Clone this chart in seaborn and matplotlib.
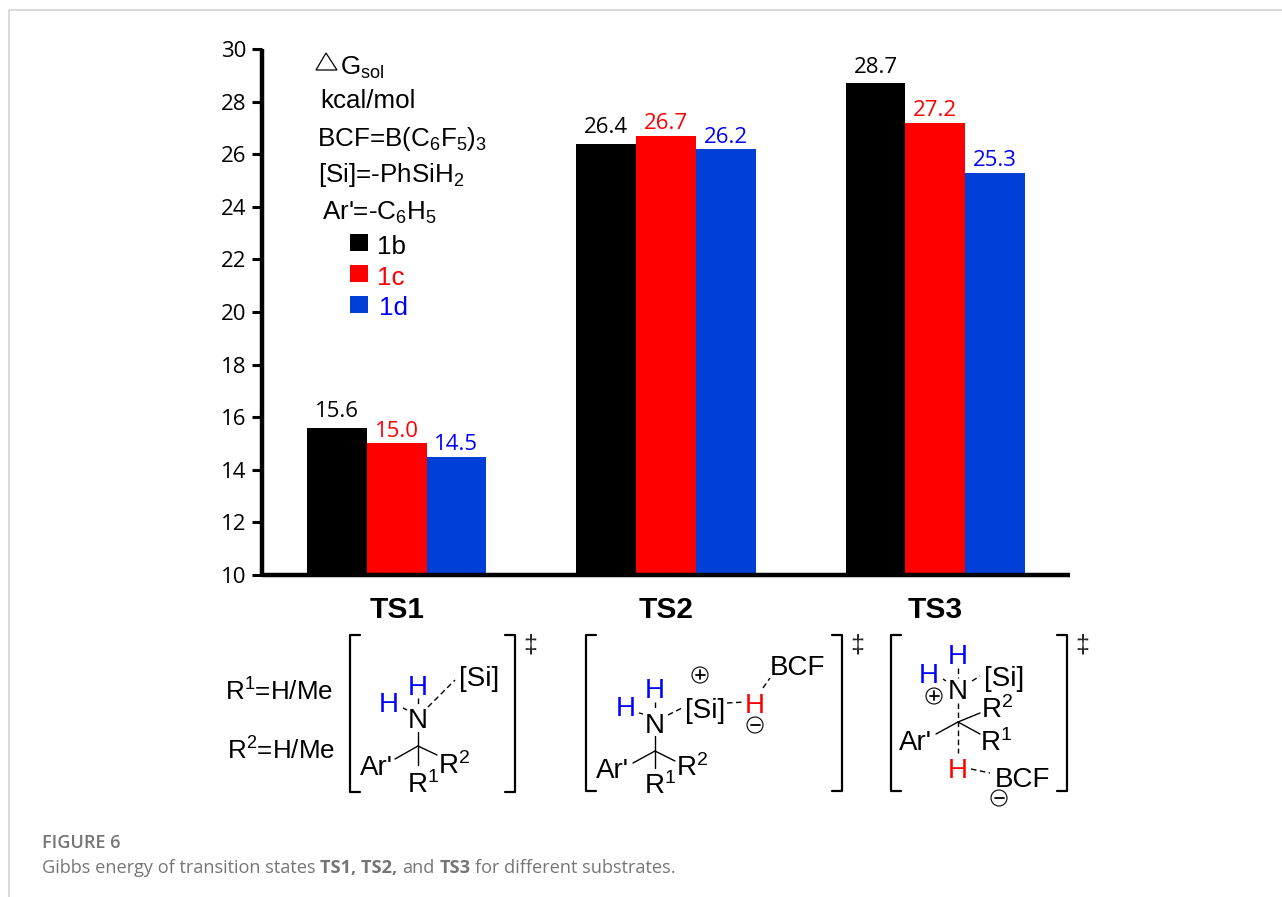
import matplotlib
matplotlib.use("Agg")
import matplotlib.pyplot as plt
from matplotlib.patches import Circle, Polygon, Rectangle
import pandas as pd
import seaborn as sns

states = ["TS1", "TS2", "TS3"]
substrates = ["1b", "1c", "1d"]
energy_1b = [15.6, 26.4, 28.7]
energy_1c = [15.0, 26.7, 27.2]
energy_1d = [14.5, 26.2, 25.3]
bar_colors = ["#000000", "#ff0000", "#0040d8"]
label_colors = ["#000000", "#ff0000", "#0000ff"]
label_padding = [4, 1, 1]

sns.set_theme(style="white")
plt.rcParams["font.family"] = ["Liberation Sans", "DejaVu Sans"]
plt.rcParams["mathtext.fontset"] = "custom"
plt.rcParams["mathtext.rm"] = "Liberation Sans"
plt.rcParams["mathtext.default"] = "regular"

df = pd.DataFrame({
    "state": states * 3,
    "substrate": [s for s in substrates for _ in states],
    "energy": energy_1b + energy_1c + energy_1d,
})

fig = plt.figure(figsize=(12.82, 8.97), dpi=100, facecolor="white")
ax = fig.add_axes([262 / 1282, 1 - 575 / 897, (1070 - 262) / 1282, (575 - 49) / 897])

sns.barplot(data=df, x="state", y="energy", hue="substrate", palette=bar_colors,
            width=0.665, gap=0, saturation=1, legend=False, linewidth=0, ax=ax)
ax.set_ylim(10, 30)
ax.set_xlim(-0.5, 2.5)
ax.set_yticks(range(10, 31, 2))
ax.set_xlabel("")
ax.set_ylabel("")
sns.despine(ax=ax)
for side in ["left", "bottom"]:
    ax.spines[side].set_linewidth(3.2)
    ax.spines[side].set_color("black")
    ax.spines[side].set_capstyle("butt")
ax.patch.set_alpha(0)
ax.tick_params(axis="y", length=7.5, width=2.2, color="black", pad=4, left=True)
ax.tick_params(axis="x", length=0, pad=15)
for t in ax.get_yticklabels():
    t.set_family("Open Sans")
    t.set_fontsize(16)
    t.set_color("black")
for t in ax.get_xticklabels():
    t.set_fontweight("bold")
    t.set_fontsize(21.5)
    t.set_color("black")

for cont, c, pad in zip(ax.containers, label_colors, label_padding):
    ax.bar_label(cont, fmt="%.1f", color=c, family="Open Sans", fontsize=16, padding=pad)

# overlay in pixel coordinates for the notes and the structures
ov = fig.add_axes([0, 0, 1, 1], zorder=5)
ov.set_xlim(0, 1282)
ov.set_ylim(897, 0)
ov.axis("off")
ov.patch.set_alpha(0)

# page frame
ov.plot([9, 9, 1282], [897, 10, 10], color="#cfcfcf", lw=1.1)


def note(x, y, s, color="black", size=18.7):
    ov.text(x, y, s, color=color, fontsize=size, ha="left", va="baseline")


def atom(x, y, s, color="black", size=20):
    ov.text(x, y, s, color=color, fontsize=size, ha="center", va="center_baseline")


def bond(x0, y0, x1, y1, dash=False):
    ov.plot([x0, x1], [y0, y1], color="black", lw=1.0, ls=(0, (4, 2.5)) if dash else "-")


def bracket(x0, x1, top, bot, w=10):
    ov.plot([x0 + w, x0, x0, x0 + w], [top, top, bot, bot], color="black", lw=1.6)
    ov.plot([x1 - w, x1, x1, x1 - w], [top, top, bot, bot], color="black", lw=1.6)
    ov.text(x1 + 15, top + 10, "\u2021", fontsize=18, ha="center", va="center")


def charge(x, y, s):
    ov.add_patch(Circle((x, y), 8, fc="white", ec="black", lw=0.8))
    ov.plot([x - 4.5, x + 4.5], [y, y], color="black", lw=1.3)
    if s == "+":
        ov.plot([x, x], [y - 4.5, y + 4.5], color="black", lw=1.3)


# notes
ov.add_patch(Polygon([(316, 70), (326, 53), (337, 70)], closed=True, fc="none", ec="black", lw=0.9))
note(340, 75, "G$_{sol}$")
note(320, 108, "kcal/mol")
note(317, 146, "BCF=B(C$_{6}$F$_{5}$)$_{3}$")
note(318, 182, "[Si]=-PhSiH$_{2}$")
note(322, 220, "Ar'=-C$_{6}$H$_{5}$")
for name, c, tc, top, base, tx in zip(substrates, bar_colors, label_colors,
                                      [234, 265, 296], [254, 285, 315], [377, 377, 379]):
    ov.add_patch(Rectangle((350, top), 18, 17, fc=c, ec="none"))
    note(tx, base, name, color=tc)

note(225, 701, "R$^{1}$=H/Me")
note(227, 760, "R$^{2}$=H/Me")

# TS1
bracket(350, 515, 635, 792)
atom(418, 685, "H", "#0000ff")
atom(389, 702, "H", "#0000ff")
atom(418, 718, "N")
atom(479, 676, "[Si]")
atom(376, 765, "Ar'")
atom(423, 782, "R$^{1}$")
atom(454, 763, "R$^{2}$")
bond(418, 746, 418, 732)
bond(418, 746, 395, 759)
bond(418, 746, 437, 755)
bond(418, 746, 418, 765)
bond(428, 707, 455, 680, True)
bond(418, 698, 418, 705, True)
bond(403, 708, 407, 710, True)

# TS2
bracket(586, 842, 635, 791)
charge(700, 675, "+")
atom(655, 688, "H", "#0000ff")
atom(626, 706, "H", "#0000ff")
atom(655, 723, "N")
atom(705, 708, "[Si]")
atom(755, 703, "H", "#ff0000")
charge(755, 725, "-")
atom(797, 665, "BCF")
atom(612, 768, "Ar'")
atom(660, 783, "R$^{1}$")
atom(692, 765, "R$^{2}$")
bond(655, 751, 655, 736)
bond(655, 751, 633, 763)
bond(655, 751, 675, 761)
bond(655, 751, 655, 768)
bond(668, 715, 682, 708, True)
bond(727, 703, 745, 702, True)
bond(763, 688, 770, 678, True)
bond(655, 702, 655, 708, True)
bond(639, 713, 643, 714, True)

# TS3
bracket(891, 1067, 635, 791)
atom(958, 654, "H", "#0000ff")
atom(929, 673, "H", "#0000ff")
atom(958, 689, "N")
atom(1004, 676, "[Si]")
charge(934, 696, "+")
atom(997, 707, "R$^{2}$")
atom(996, 740, "R$^{1}$")
atom(915, 740, "Ar'")
atom(958, 768, "H", "#ff0000")
atom(1022, 777, "BCF")
charge(999, 798, "-")
bond(958, 722, 980, 713)
bond(958, 722, 980, 734)
bond(958, 722, 936, 734)
bond(958, 703, 958, 753, True)
bond(958, 668, 958, 678, True)
bond(943, 679, 946, 681, True)
bond(972, 681, 980, 676, True)
bond(971, 769, 990, 773, True)

# caption
cap_color = "#757575"
cap_size = 13.1
ov.text(42, 848, "FIGURE 6", family="Open Sans", fontweight="semibold", fontsize=13,
        color=cap_color, va="baseline")
pieces = [("Gibbs energy of transition states ", "normal"), ("TS1, TS2,", "bold"),
          (" and ", "normal"), ("TS3", "bold"), (" for different substrates.", "normal")]
fig.canvas.draw()
rend = fig.canvas.get_renderer()


def text_width(s, w):
    # bars on both ends so the outer spaces count too
    a = ov.text(0, 0, "|" + s + "|", family="Open Sans", fontweight=w, fontsize=cap_size)
    b = ov.text(0, 0, "||", family="Open Sans", fontweight=w, fontsize=cap_size)
    out = a.get_window_extent(rend).width - b.get_window_extent(rend).width
    a.remove()
    b.remove()
    return out


cx = 42
for s, w in pieces:
    lead = text_width(" ", w) if s.startswith(" ") else 0
    ov.text(cx + lead, 873, s.strip(), family="Open Sans", fontweight=w, fontsize=cap_size,
            color=cap_color, va="baseline", ha="left")
    cx += text_width(s, w)

fig.savefig("out.png", dpi=100)
